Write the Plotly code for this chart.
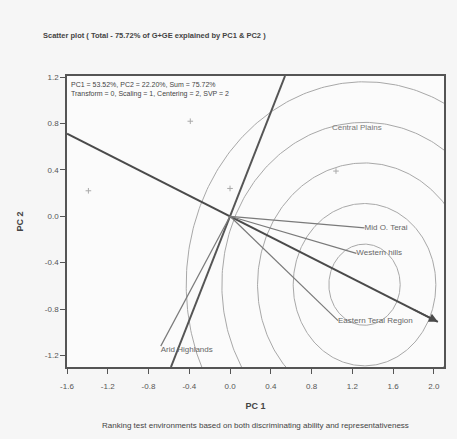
import numpy as np
import plotly.graph_objects as go

# Environment vectors (PC1, PC2 end points) and their names
env_names = ["Mid O. Terai", "Western hills", "Eastern Terai Region", "Arid Highlands"]
env_pc1 = [1.32, 1.24, 1.06, -0.68]
env_pc2 = [-0.10, -0.32, -0.90, -1.12]

# Average environment (defines the AEC axes)
ave_env = [2.04, -0.91]

# Ideal environment (centre of the concentric circles) and ring radii
ideal_env = [1.32, -0.59]
ring_radii = [0.35, 0.70, 1.05, 1.40, 1.75]

# Genotype points
gen_pc1 = [-0.39, -1.39, 0.00, 1.04]
gen_pc2 = [0.82, 0.22, 0.24, 0.39]

# Extra label (genotype name)
top_label = "Central Plains"
top_label_xy = [1.00, 0.76]

x_ticks = [-1.6, -1.2, -0.8, -0.4, 0.0, 0.4, 0.8, 1.2, 1.6, 2.0]
y_ticks = [-1.2, -0.8, -0.4, 0.0, 0.4, 0.8, 1.2]
x_range = [-1.6, 2.10]
y_range = [-1.30, 1.21]

fig = go.Figure()

# concentric rings around the ideal environment
theta = np.linspace(0, 2 * np.pi, 361)
for r in ring_radii:
    fig.add_trace(go.Scatter(
        x=ideal_env[0] + r * np.cos(theta),
        y=ideal_env[1] + r * np.sin(theta),
        mode="lines", line=dict(color="#a8a8a8", width=1),
        hoverinfo="skip", showlegend=False))

# AEC abscissa: through origin and the average environment
sl = ave_env[1] / ave_env[0]
fig.add_trace(go.Scatter(
    x=[x_range[0], ave_env[0]], y=[sl * x_range[0], ave_env[1]],
    mode="lines", line=dict(color="#4a4a4a", width=2),
    hoverinfo="skip", showlegend=False))
fig.add_annotation(x=ave_env[0], y=ave_env[1], ax=ave_env[0] - 0.25, ay=ave_env[1] + 0.25 * (-sl),
                   xref="x", yref="y", axref="x", ayref="y", text="",
                   showarrow=True, arrowhead=2, arrowsize=1.2, arrowwidth=1.5, arrowcolor="#4a4a4a")

# AEC ordinate: perpendicular through origin
ps = -1.0 / sl
fig.add_trace(go.Scatter(
    x=[y_range[0] / ps, y_range[1] / ps], y=[y_range[0], y_range[1]],
    mode="lines", line=dict(color="#555555", width=2),
    hoverinfo="skip", showlegend=False))

# environment vectors
for ex, ey in zip(env_pc1, env_pc2):
    fig.add_trace(go.Scatter(
        x=[0, ex], y=[0, ey], mode="lines",
        line=dict(color="#7a7a7a", width=1.2),
        hoverinfo="skip", showlegend=False))

# environment labels
label_pos = ["middle right", "middle right", "middle right", "bottom right"]
for ex, ey, nm, pos in zip(env_pc1, env_pc2, env_names, label_pos):
    fig.add_trace(go.Scatter(
        x=[ex], y=[ey], mode="text", text=[nm], textposition=pos,
        textfont=dict(family="Liberation Sans", size=8, color="#666666"),
        hoverinfo="skip", showlegend=False))

fig.add_trace(go.Scatter(
    x=[top_label_xy[0]], y=[top_label_xy[1]], mode="text", text=[top_label],
    textposition="middle right",
    textfont=dict(family="Liberation Sans", size=8, color="#777777"),
    hoverinfo="skip", showlegend=False))

# genotypes
fig.add_trace(go.Scatter(
    x=gen_pc1, y=gen_pc2, mode="markers",
    marker=dict(symbol="cross-thin", size=4, line=dict(color="#aaaaaa", width=1)),
    hoverinfo="skip", showlegend=False))

axis_common = dict(
    showgrid=False, zeroline=False, showline=True, linecolor="#555555", linewidth=1.5,
    mirror=True, ticks="outside", ticklen=5, tickcolor="#555555",
    tickfont=dict(family="Liberation Sans", size=8, color="#555555"),
)

fig.update_layout(
    width=457, height=439,
    margin=dict(l=67, r=11, t=76, b=72),
    paper_bgcolor="#f6f6f6", plot_bgcolor="#fbfbfb",
    xaxis=dict(range=x_range, tickvals=x_ticks,
               ticktext=[f"{v:.1f}" for v in x_ticks],
               ticklabelstandoff=6,
               title=dict(text="<b>PC 1</b>", standoff=12,
                          font=dict(family="Liberation Sans", size=9, color="#444444")),
               **axis_common),
    yaxis=dict(range=y_range, tickvals=y_ticks,
               ticktext=[f"{v:.1f}" for v in y_ticks],
               title=dict(text="<b>PC 2</b>", standoff=20,
                          font=dict(family="Liberation Sans", size=9, color="#444444")),
               **axis_common),
)

# title, biplot statistics and caption
fig.add_annotation(xref="paper", yref="paper", x=-0.07, y=1.14, xanchor="left", yanchor="middle",
                   text="<b>Scatter plot ( Total - 75.72% of G+GE explained by PC1 &amp; PC2 )</b>",
                   showarrow=False, font=dict(family="Liberation Sans", size=7.5, color="#444444"))
fig.add_annotation(xref="paper", yref="paper", x=0.005, y=0.99, xanchor="left", yanchor="top",
                   text="PC1 = 53.52%, PC2 = 22.20%, Sum = 75.72%<br>Transform = 0, Scaling = 1, Centering = 2, SVP = 2",
                   align="left", showarrow=False,
                   font=dict(family="Liberation Sans", size=7, color="#444444"))
fig.add_annotation(xref="paper", yref="paper", x=0.5, y=-0.20, xanchor="center", yanchor="middle",
                   text="Ranking test environments based on both discriminating ability and representativeness",
                   showarrow=False, font=dict(family="Liberation Sans", size=8, color="#444444"))

fig.write_html("out.html")
